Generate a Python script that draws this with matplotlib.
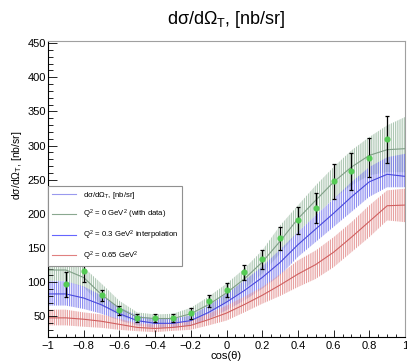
import matplotlib
matplotlib.use("Agg")
from matplotlib import pyplot as plt
from matplotlib.lines import Line2D
from matplotlib.ticker import MultipleLocator

plt.rcParams['font.family'] = ['Liberation Sans', 'DejaVu Sans']
plt.rcParams['mathtext.fontset'] = 'custom'
plt.rcParams['mathtext.rm'] = 'Liberation Sans'
plt.rcParams['mathtext.it'] = 'Liberation Sans:italic'
plt.rcParams['mathtext.default'] = 'regular'
plt.rcParams['hatch.linewidth'] = 0.6

# band nodes in cos(theta)
cos_theta = [-1.0, -0.9, -0.8, -0.7, -0.6, -0.5, -0.4, -0.3, -0.2, -0.1, 0.0,
             0.1, 0.2, 0.3, 0.4, 0.5, 0.6, 0.7, 0.8, 0.9, 1.0]

# Q2 = 0 (with data)
q0_center = [118, 118, 107, 82, 62, 49, 47, 47, 54, 67.5, 84.5,
             105, 129.5, 160, 193, 220, 246.7, 268.6, 285.7, 294, 295.5]
q0_lower = [102, 102, 93, 66, 51.5, 41.7, 40, 40, 45, 56, 71,
            90.5, 112.5, 142, 173.5, 198, 222.3, 241.8, 256.4, 261.3, 261]
q0_upper = [135, 135, 122, 98, 73, 56, 53, 54, 62.7, 79, 98,
            120, 146.6, 183, 212.5, 241.8, 268.6, 293, 312.5, 329.6, 341.8]

# Q2 = 0.3 interpolation
q03_center = [83, 83, 77, 67, 54, 44, 40, 40, 44, 56, 71,
              88, 107, 129, 155, 178, 201, 225, 247, 258, 255]
q03_lower = [66, 66, 61, 54, 44, 37, 33.4, 33.4, 37, 46.6, 59,
             73.4, 90.5, 110, 137, 159, 181, 203, 225, 239, 239]
q03_upper = [101.7, 101.7, 94, 80.7, 63.6, 51.5, 46.6, 46.6, 51.5, 66, 83,
             102.7, 123, 148, 173.5, 198, 222, 246.7, 268.6, 283, 288]

# Q2 = 0.65
q065_center = [48, 48, 46, 43, 38.5, 34, 32.5, 34, 37, 45.5, 55,
               67.5, 81, 96, 112, 126, 144, 166, 189, 212, 213]
q065_lower = [37, 37, 35, 33.4, 30.5, 28.5, 27, 29, 30.5, 37, 44,
              56, 68.6, 80, 93, 105, 122, 144, 166, 190.5, 188]
q065_upper = [60, 60, 56, 53, 46.6, 40, 38, 40, 44, 54, 66,
              79, 93, 112, 132, 146.6, 166, 188, 212.5, 234.5, 237]

# measured points
data_x = [-0.9, -0.8, -0.7, -0.6, -0.5, -0.4, -0.3, -0.2, -0.1, 0.0,
          0.1, 0.2, 0.3, 0.4, 0.5, 0.6, 0.7, 0.8, 0.9]
data_y = [97, 116, 81, 59, 47.5, 47.5, 47.5, 55, 73, 89,
          115, 133.5, 164.5, 190.5, 208.5, 247.5, 262.5, 282, 309]
data_err = [18, 15, 8, 6.5, 5.6, 6, 6, 8, 9, 10,
            11, 13.4, 17, 19.5, 21.5, 25.5, 27, 28.5, 34.5]

title = 'd\u03c3/d\u03a9$_{T}$, [nb/sr]'
legend_labels = ['d\u03c3/d\u03a9$_{T}$, [nb/sr]',
                 'Q$^{2}$ = 0 GeV$^{2}$ (with data)',
                 'Q$^{2}$ = 0.3 GeV$^{2}$ interpolation',
                 'Q$^{2}$ = 0.65 GeV$^{2}$']

fig = plt.figure(figsize=(4.07, 3.61), dpi=100)
ax = fig.add_axes([48 / 407, 1 - 337 / 361, 357 / 407, 296 / 361])

bands = [
    (q0_center, q0_lower, q0_upper, '#9dbca4', '#7f9f86'),
    (q03_center, q03_lower, q03_upper, '#7878ee', '#4848dd'),
    (q065_center, q065_lower, q065_upper, '#e39090', '#d06060'),
]
for center, lower, upper, hatch_col, line_col in bands:
    ax.fill_between(cos_theta, lower, upper, facecolor='none',
                    edgecolor=hatch_col, hatch='|' * 9, linewidth=0)
    ax.plot(cos_theta, center, color=line_col, lw=0.8)

ax.errorbar(data_x, data_y, yerr=data_err, fmt='o', color='#55cc55',
            ms=3.4, mec='#55cc55', ecolor='black', elinewidth=0.9,
            capsize=1.2, capthick=0.9, zorder=5)

ax.xaxis.set_major_locator(MultipleLocator(0.2))
ax.xaxis.set_minor_locator(MultipleLocator(0.05))
ax.yaxis.set_minor_locator(MultipleLocator(10))
ax.set_yticks([50, 100, 150, 200, 250, 300, 350, 400, 450])
ax.set_xticks([-1, -0.8, -0.6, -0.4, -0.2, 0, 0.2, 0.4, 0.6, 0.8, 1])
ax.set_xticklabels(['\u22121', '\u22120.8', '\u22120.6', '\u22120.4', '\u22120.2',
                    '0', '0.2', '0.4', '0.6', '0.8', '1'])
ax.set_xlim(-1, 1)
ax.set_ylim(20, 453)
ax.tick_params(which='both', direction='in', top=False, right=False,
               labelsize=8, width=0.6)
ax.tick_params(axis='y', which='major', length=6.5, pad=1.5)
ax.tick_params(axis='y', which='minor', length=3.5)
ax.tick_params(axis='x', which='major', length=5, pad=3)
ax.tick_params(axis='x', which='minor', length=2.5)

for side in ['top', 'right']:
    ax.spines[side].set_color('#a0a0a0')
    ax.spines[side].set_linewidth(0.8)
for side in ['left', 'bottom']:
    ax.spines[side].set_linewidth(0.8)

ax.set_xlabel('cos(\u03b8)', fontsize=8, va='top')
ax.xaxis.set_label_coords(0.5, -0.048)
ax.set_ylabel(title, fontsize=7.5)
ax.yaxis.set_label_coords(-0.067, 0.58)

fig.text(226 / 407, 1 - 24 / 361, title, fontsize=13, ha='center', va='baseline')

handles = [Line2D([], [], color='#9999ee', lw=0.8),
           Line2D([], [], color='#8aa890', lw=0.8),
           Line2D([], [], color='#6666ff', lw=0.8),
           Line2D([], [], color='#e08080', lw=0.8)]
leg = ax.legend(handles, legend_labels, loc='upper left',
                bbox_to_anchor=(0.0, 0.51), borderaxespad=0, fontsize=5.6,
                labelspacing=0.95, handlelength=3.2, handletextpad=0.8,
                borderpad=0.45, fancybox=False, framealpha=1)
leg.get_frame().set_edgecolor('#909090')
leg.get_frame().set_linewidth(0.8)
leg.set_zorder(10)

fig.savefig('out.png', dpi=100)
